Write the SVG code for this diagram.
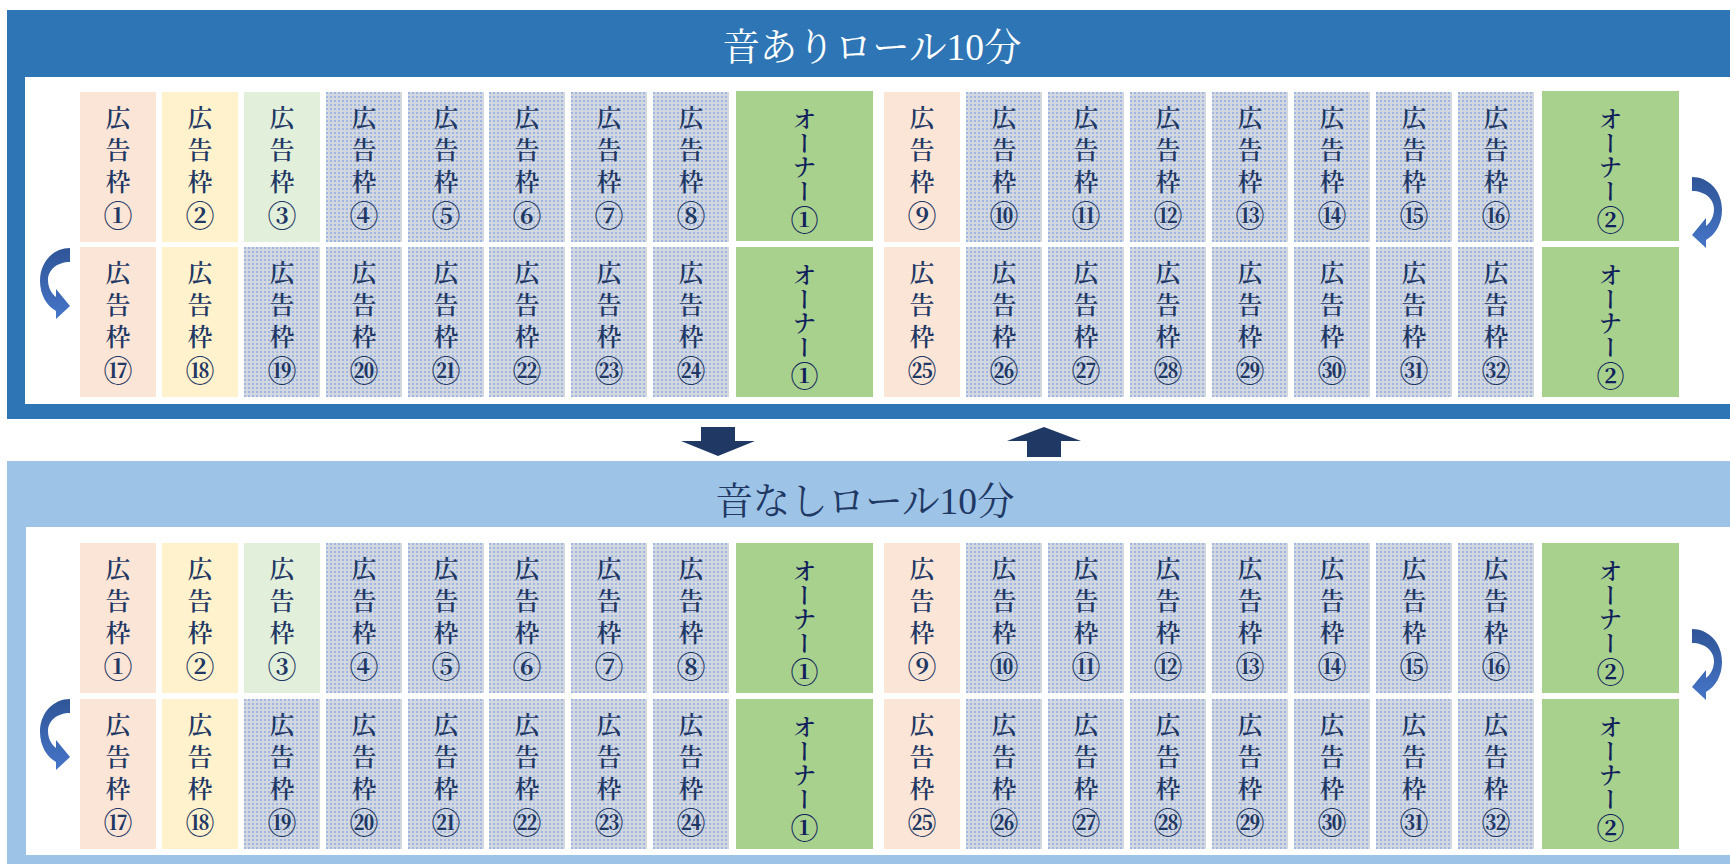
<svg xmlns="http://www.w3.org/2000/svg" width="1730" height="864" viewBox="0 0 1730 864">
<style>
.ad{font-family:"Noto Serif CJK JP","Noto Sans CJK JP",serif;font-size:25px;font-weight:600;fill:#1f3864;writing-mode:vertical-rl;letter-spacing:7px}
.n{font-size:29px;font-weight:700}
.ow{font-family:"Noto Serif CJK JP","Noto Sans CJK JP",serif;font-size:24px;font-weight:600;fill:#111f5c;writing-mode:vertical-rl}
.on{font-size:28px;font-weight:700}
.title{font-family:"Liberation Serif","Noto Serif CJK JP","Noto Sans CJK JP",serif;font-size:37.5px;text-anchor:middle;dominant-baseline:central}
.pink{fill:#fbe5d6}.yel{fill:#fff2cc}.grn{fill:#e2efda}.dot{fill:url(#dots)}.own{fill:#a9d18e}
.blk{fill:#1f3864}
.curv{fill:url(#cg)}
</style>
<defs>
<pattern id="dots" width="4" height="4" patternUnits="userSpaceOnUse"><rect width="4" height="4" fill="#d3d8df"/><rect width="2" height="2" fill="#9fb5e3"/></pattern>
<linearGradient id="cg" x1="0" y1="0" x2="0" y2="1"><stop offset="0" stop-color="#2f5597"/><stop offset="1" stop-color="#4675c8"/></linearGradient>
<path id="carrow" d="M30,0 C14,0 0,13 0,33 C0,47 7,58 16,63 L16,71 L30,58 L16,41 L16,49 C11,45 8,39 8,32 C8,22 17,14 30,14 Z"/>
</defs>

<g id="panel-on">
<rect x="7" y="10" width="1723" height="409" fill="#2e75b6"/>
<rect x="25" y="77" width="1705" height="327" fill="#ffffff"/>
<text class="title" x="872" y="47" fill="#ffffff">音ありロール10分</text>
</g>
<g id="panel-off">
<rect x="7" y="461" width="1723" height="403" fill="#9dc3e6"/>
<rect x="26" y="527" width="1704" height="328" fill="#ffffff"/>
<text class="title" x="865" y="501" fill="#1f3864">音なしロール10分</text>
</g>

<!-- top panel row 1 -->
<g id="on-ad1" transform="translate(80,92)"><rect class="pink" width="76" height="150"/><text class="ad" x="38" y="13">広告枠<tspan class="n">①</tspan></text></g>
<g id="on-ad2" transform="translate(162,92)"><rect class="yel" width="76" height="150"/><text class="ad" x="38" y="13">広告枠<tspan class="n">②</tspan></text></g>
<g id="on-ad3" transform="translate(244,92)"><rect class="grn" width="76" height="150"/><text class="ad" x="38" y="13">広告枠<tspan class="n">③</tspan></text></g>
<g id="on-ad4" transform="translate(326,92)"><rect class="dot" width="76" height="150"/><text class="ad" x="38" y="13">広告枠<tspan class="n">④</tspan></text></g>
<g id="on-ad5" transform="translate(408,92)"><rect class="dot" width="76" height="150"/><text class="ad" x="38" y="13">広告枠<tspan class="n">⑤</tspan></text></g>
<g id="on-ad6" transform="translate(489,92)"><rect class="dot" width="76" height="150"/><text class="ad" x="38" y="13">広告枠<tspan class="n">⑥</tspan></text></g>
<g id="on-ad7" transform="translate(571,92)"><rect class="dot" width="76" height="150"/><text class="ad" x="38" y="13">広告枠<tspan class="n">⑦</tspan></text></g>
<g id="on-ad8" transform="translate(653,92)"><rect class="dot" width="76" height="150"/><text class="ad" x="38" y="13">広告枠<tspan class="n">⑧</tspan></text></g>
<g id="on-owner1a" transform="translate(736,91)"><rect class="own" width="137" height="150"/><text class="ow" x="68.5" y="16">オーナー<tspan class="on" dy="3">①</tspan></text></g>
<g id="on-ad9" transform="translate(884,92)"><rect class="pink" width="76" height="150"/><text class="ad" x="38" y="13">広告枠<tspan class="n">⑨</tspan></text></g>
<g id="on-ad10" transform="translate(966,92)"><rect class="dot" width="76" height="150"/><text class="ad" x="38" y="13">広告枠<tspan class="n">⑩</tspan></text></g>
<g id="on-ad11" transform="translate(1048,92)"><rect class="dot" width="76" height="150"/><text class="ad" x="38" y="13">広告枠<tspan class="n">⑪</tspan></text></g>
<g id="on-ad12" transform="translate(1130,92)"><rect class="dot" width="76" height="150"/><text class="ad" x="38" y="13">広告枠<tspan class="n">⑫</tspan></text></g>
<g id="on-ad13" transform="translate(1212,92)"><rect class="dot" width="76" height="150"/><text class="ad" x="38" y="13">広告枠<tspan class="n">⑬</tspan></text></g>
<g id="on-ad14" transform="translate(1294,92)"><rect class="dot" width="76" height="150"/><text class="ad" x="38" y="13">広告枠<tspan class="n">⑭</tspan></text></g>
<g id="on-ad15" transform="translate(1376,92)"><rect class="dot" width="76" height="150"/><text class="ad" x="38" y="13">広告枠<tspan class="n">⑮</tspan></text></g>
<g id="on-ad16" transform="translate(1458,92)"><rect class="dot" width="76" height="150"/><text class="ad" x="38" y="13">広告枠<tspan class="n">⑯</tspan></text></g>
<g id="on-owner2a" transform="translate(1542,91)"><rect class="own" width="137" height="150"/><text class="ow" x="68.5" y="16">オーナー<tspan class="on" dy="3">②</tspan></text></g>

<!-- top panel row 2 -->
<g id="on-ad17" transform="translate(80,247)"><rect class="pink" width="76" height="150"/><text class="ad" x="38" y="13">広告枠<tspan class="n">⑰</tspan></text></g>
<g id="on-ad18" transform="translate(162,247)"><rect class="yel" width="76" height="150"/><text class="ad" x="38" y="13">広告枠<tspan class="n">⑱</tspan></text></g>
<g id="on-ad19" transform="translate(244,247)"><rect class="dot" width="76" height="150"/><text class="ad" x="38" y="13">広告枠<tspan class="n">⑲</tspan></text></g>
<g id="on-ad20" transform="translate(326,247)"><rect class="dot" width="76" height="150"/><text class="ad" x="38" y="13">広告枠<tspan class="n">⑳</tspan></text></g>
<g id="on-ad21" transform="translate(408,247)"><rect class="dot" width="76" height="150"/><text class="ad" x="38" y="13">広告枠<tspan class="n">㉑</tspan></text></g>
<g id="on-ad22" transform="translate(489,247)"><rect class="dot" width="76" height="150"/><text class="ad" x="38" y="13">広告枠<tspan class="n">㉒</tspan></text></g>
<g id="on-ad23" transform="translate(571,247)"><rect class="dot" width="76" height="150"/><text class="ad" x="38" y="13">広告枠<tspan class="n">㉓</tspan></text></g>
<g id="on-ad24" transform="translate(653,247)"><rect class="dot" width="76" height="150"/><text class="ad" x="38" y="13">広告枠<tspan class="n">㉔</tspan></text></g>
<g id="on-owner1b" transform="translate(736,247)"><rect class="own" width="137" height="150"/><text class="ow" x="68.5" y="16">オーナー<tspan class="on" dy="3">①</tspan></text></g>
<g id="on-ad25" transform="translate(884,247)"><rect class="pink" width="76" height="150"/><text class="ad" x="38" y="13">広告枠<tspan class="n">㉕</tspan></text></g>
<g id="on-ad26" transform="translate(966,247)"><rect class="dot" width="76" height="150"/><text class="ad" x="38" y="13">広告枠<tspan class="n">㉖</tspan></text></g>
<g id="on-ad27" transform="translate(1048,247)"><rect class="dot" width="76" height="150"/><text class="ad" x="38" y="13">広告枠<tspan class="n">㉗</tspan></text></g>
<g id="on-ad28" transform="translate(1130,247)"><rect class="dot" width="76" height="150"/><text class="ad" x="38" y="13">広告枠<tspan class="n">㉘</tspan></text></g>
<g id="on-ad29" transform="translate(1212,247)"><rect class="dot" width="76" height="150"/><text class="ad" x="38" y="13">広告枠<tspan class="n">㉙</tspan></text></g>
<g id="on-ad30" transform="translate(1294,247)"><rect class="dot" width="76" height="150"/><text class="ad" x="38" y="13">広告枠<tspan class="n">㉚</tspan></text></g>
<g id="on-ad31" transform="translate(1376,247)"><rect class="dot" width="76" height="150"/><text class="ad" x="38" y="13">広告枠<tspan class="n">㉛</tspan></text></g>
<g id="on-ad32" transform="translate(1458,247)"><rect class="dot" width="76" height="150"/><text class="ad" x="38" y="13">広告枠<tspan class="n">㉜</tspan></text></g>
<g id="on-owner2b" transform="translate(1542,247)"><rect class="own" width="137" height="150"/><text class="ow" x="68.5" y="16">オーナー<tspan class="on" dy="3">②</tspan></text></g>

<!-- bottom panel row 1 -->
<g id="off-ad1" transform="translate(80,543)"><rect class="pink" width="76" height="150"/><text class="ad" x="38" y="13">広告枠<tspan class="n">①</tspan></text></g>
<g id="off-ad2" transform="translate(162,543)"><rect class="yel" width="76" height="150"/><text class="ad" x="38" y="13">広告枠<tspan class="n">②</tspan></text></g>
<g id="off-ad3" transform="translate(244,543)"><rect class="grn" width="76" height="150"/><text class="ad" x="38" y="13">広告枠<tspan class="n">③</tspan></text></g>
<g id="off-ad4" transform="translate(326,543)"><rect class="dot" width="76" height="150"/><text class="ad" x="38" y="13">広告枠<tspan class="n">④</tspan></text></g>
<g id="off-ad5" transform="translate(408,543)"><rect class="dot" width="76" height="150"/><text class="ad" x="38" y="13">広告枠<tspan class="n">⑤</tspan></text></g>
<g id="off-ad6" transform="translate(489,543)"><rect class="dot" width="76" height="150"/><text class="ad" x="38" y="13">広告枠<tspan class="n">⑥</tspan></text></g>
<g id="off-ad7" transform="translate(571,543)"><rect class="dot" width="76" height="150"/><text class="ad" x="38" y="13">広告枠<tspan class="n">⑦</tspan></text></g>
<g id="off-ad8" transform="translate(653,543)"><rect class="dot" width="76" height="150"/><text class="ad" x="38" y="13">広告枠<tspan class="n">⑧</tspan></text></g>
<g id="off-owner1a" transform="translate(736,543)"><rect class="own" width="137" height="150"/><text class="ow" x="68.5" y="16">オーナー<tspan class="on" dy="3">①</tspan></text></g>
<g id="off-ad9" transform="translate(884,543)"><rect class="pink" width="76" height="150"/><text class="ad" x="38" y="13">広告枠<tspan class="n">⑨</tspan></text></g>
<g id="off-ad10" transform="translate(966,543)"><rect class="dot" width="76" height="150"/><text class="ad" x="38" y="13">広告枠<tspan class="n">⑩</tspan></text></g>
<g id="off-ad11" transform="translate(1048,543)"><rect class="dot" width="76" height="150"/><text class="ad" x="38" y="13">広告枠<tspan class="n">⑪</tspan></text></g>
<g id="off-ad12" transform="translate(1130,543)"><rect class="dot" width="76" height="150"/><text class="ad" x="38" y="13">広告枠<tspan class="n">⑫</tspan></text></g>
<g id="off-ad13" transform="translate(1212,543)"><rect class="dot" width="76" height="150"/><text class="ad" x="38" y="13">広告枠<tspan class="n">⑬</tspan></text></g>
<g id="off-ad14" transform="translate(1294,543)"><rect class="dot" width="76" height="150"/><text class="ad" x="38" y="13">広告枠<tspan class="n">⑭</tspan></text></g>
<g id="off-ad15" transform="translate(1376,543)"><rect class="dot" width="76" height="150"/><text class="ad" x="38" y="13">広告枠<tspan class="n">⑮</tspan></text></g>
<g id="off-ad16" transform="translate(1458,543)"><rect class="dot" width="76" height="150"/><text class="ad" x="38" y="13">広告枠<tspan class="n">⑯</tspan></text></g>
<g id="off-owner2a" transform="translate(1542,543)"><rect class="own" width="137" height="150"/><text class="ow" x="68.5" y="16">オーナー<tspan class="on" dy="3">②</tspan></text></g>

<!-- bottom panel row 2 -->
<g id="off-ad17" transform="translate(80,699)"><rect class="pink" width="76" height="150"/><text class="ad" x="38" y="13">広告枠<tspan class="n">⑰</tspan></text></g>
<g id="off-ad18" transform="translate(162,699)"><rect class="yel" width="76" height="150"/><text class="ad" x="38" y="13">広告枠<tspan class="n">⑱</tspan></text></g>
<g id="off-ad19" transform="translate(244,699)"><rect class="dot" width="76" height="150"/><text class="ad" x="38" y="13">広告枠<tspan class="n">⑲</tspan></text></g>
<g id="off-ad20" transform="translate(326,699)"><rect class="dot" width="76" height="150"/><text class="ad" x="38" y="13">広告枠<tspan class="n">⑳</tspan></text></g>
<g id="off-ad21" transform="translate(408,699)"><rect class="dot" width="76" height="150"/><text class="ad" x="38" y="13">広告枠<tspan class="n">㉑</tspan></text></g>
<g id="off-ad22" transform="translate(489,699)"><rect class="dot" width="76" height="150"/><text class="ad" x="38" y="13">広告枠<tspan class="n">㉒</tspan></text></g>
<g id="off-ad23" transform="translate(571,699)"><rect class="dot" width="76" height="150"/><text class="ad" x="38" y="13">広告枠<tspan class="n">㉓</tspan></text></g>
<g id="off-ad24" transform="translate(653,699)"><rect class="dot" width="76" height="150"/><text class="ad" x="38" y="13">広告枠<tspan class="n">㉔</tspan></text></g>
<g id="off-owner1b" transform="translate(736,699)"><rect class="own" width="137" height="150"/><text class="ow" x="68.5" y="16">オーナー<tspan class="on" dy="3">①</tspan></text></g>
<g id="off-ad25" transform="translate(884,699)"><rect class="pink" width="76" height="150"/><text class="ad" x="38" y="13">広告枠<tspan class="n">㉕</tspan></text></g>
<g id="off-ad26" transform="translate(966,699)"><rect class="dot" width="76" height="150"/><text class="ad" x="38" y="13">広告枠<tspan class="n">㉖</tspan></text></g>
<g id="off-ad27" transform="translate(1048,699)"><rect class="dot" width="76" height="150"/><text class="ad" x="38" y="13">広告枠<tspan class="n">㉗</tspan></text></g>
<g id="off-ad28" transform="translate(1130,699)"><rect class="dot" width="76" height="150"/><text class="ad" x="38" y="13">広告枠<tspan class="n">㉘</tspan></text></g>
<g id="off-ad29" transform="translate(1212,699)"><rect class="dot" width="76" height="150"/><text class="ad" x="38" y="13">広告枠<tspan class="n">㉙</tspan></text></g>
<g id="off-ad30" transform="translate(1294,699)"><rect class="dot" width="76" height="150"/><text class="ad" x="38" y="13">広告枠<tspan class="n">㉚</tspan></text></g>
<g id="off-ad31" transform="translate(1376,699)"><rect class="dot" width="76" height="150"/><text class="ad" x="38" y="13">広告枠<tspan class="n">㉛</tspan></text></g>
<g id="off-ad32" transform="translate(1458,699)"><rect class="dot" width="76" height="150"/><text class="ad" x="38" y="13">広告枠<tspan class="n">㉜</tspan></text></g>
<g id="off-owner2b" transform="translate(1542,699)"><rect class="own" width="137" height="150"/><text class="ow" x="68.5" y="16">オーナー<tspan class="on" dy="3">②</tspan></text></g>

<g id="connectors">
<path class="blk" d="M701,427 H735 V441 H755 L718,456 L681,441 H701 Z"/>
<path class="blk" d="M1044,427 L1081,441 H1061 V457 H1027 V441 H1007 Z"/>
<use href="#carrow" class="curv" transform="translate(40,248)"/>
<use href="#carrow" class="curv" transform="translate(1722,177) scale(-1,1)"/>
<use href="#carrow" class="curv" transform="translate(40,699)"/>
<use href="#carrow" class="curv" transform="translate(1722,629) scale(-1,1)"/>
</g>
</svg>
